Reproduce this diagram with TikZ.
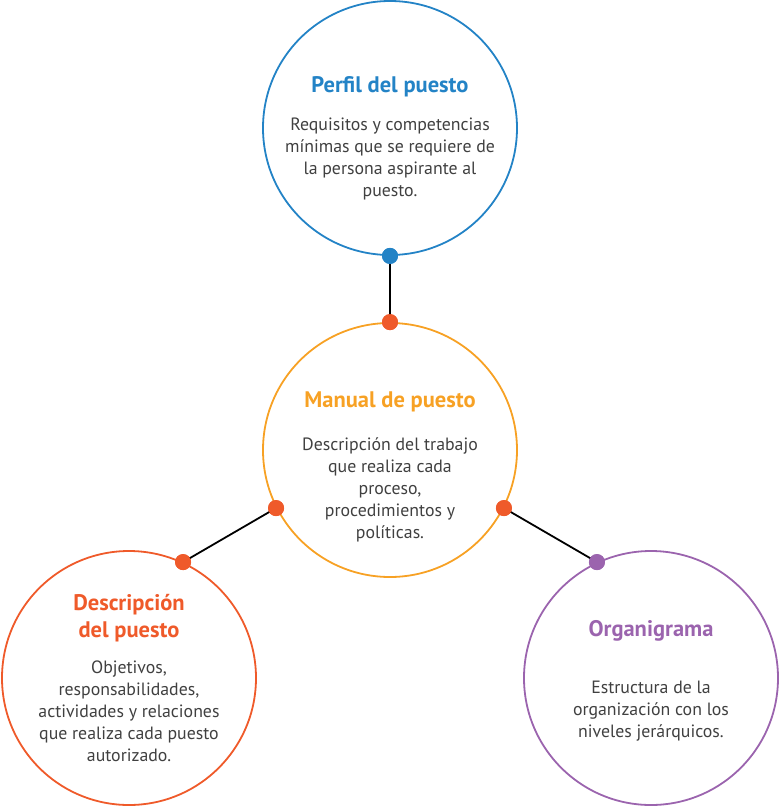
\documentclass[tikz,border=0pt]{standalone}
\usepackage{fontspec}
\setmainfont{PT Sans}
\definecolor{cblue}{HTML}{2383C6}
\definecolor{corange}{HTML}{F7A124}
\definecolor{cred}{HTML}{EF5A2A}
\definecolor{cpurple}{HTML}{9B64AE}
\definecolor{ctext}{HTML}{404040}
\tikzset{
  ring/.style={circle, draw=#1, line width=1.8pt, minimum size=254pt, inner sep=0pt},
  dot/.style={circle, fill=#1, minimum size=16pt, inner sep=0pt},
  link/.style={draw=black, line width=1.8pt},
  ttl/.style={text=#1, font=\fontsize{22.5}{27}\selectfont\bfseries, align=center},
  body/.style={text=ctext, font=\fontsize{17.8}{22}\selectfont, align=center},
}
\begin{document}
\begin{tikzpicture}[x=1pt,y=-1pt]
\useasboundingbox (0,0) rectangle (780,807);
\node[ring=cblue] (top) at (390,128) {};
\node[ring=corange] (mid) at (390,450) {};
\node[ring=cred] (bl) at (129,678) {};
\node[ring=cpurple] (br) at (651,678) {};
\node[dot=cblue] (d1) at (top.-90) {};
\node[dot=cred] (d2) at (mid.90) {};
\node[dot=cred] (d3) at (mid.207) {};
\node[dot=cred] (d4) at (mid.333) {};
\node[dot=cred] (d5) at (bl.65) {};
\node[dot=cpurple] (d6) at (br.115) {};
\draw[link] (d1.center) -- (d2.center);
\draw[link] (d3.center) -- (d5.center);
\draw[link] (d4.center) -- (d6.center);
\node[dot=cblue] at (d1) {};
\node[dot=cred] at (d2) {};
\node[dot=cred] at (d3) {};
\node[dot=cred] at (d4) {};
\node[dot=cred] at (d5) {};
\node[dot=cpurple] at (d6) {};
\node[ttl=cblue] (t1) at (390,87) {Perfil del puesto};
\node[body, anchor=north] (b1) at (390,114) {Requisitos y competencias\\mínimas que se requiere de\\la persona aspirante al\\puesto.};
\node[ttl=corange] (t2) at (390,402) {Manual de puesto};
\node[body, anchor=north] (b2) at (390,434) {Descripción del trabajo\\que realiza cada\\proceso,\\procedimientos y\\políticas.};
\node[ttl=cred] (t3) at (129,618) {Descripción\\del puesto};
\node[body, anchor=north] (b3) at (129,657) {Objetivos,\\responsabilidades,\\actividades y relaciones\\que realiza cada puesto\\autorizado.};
\node[ttl=cpurple] (t4) at (651,631) {Organigrama};
\node[body, anchor=north] (b4) at (651,677) {Estructura de la\\organización con los\\niveles jerárquicos.};
\end{tikzpicture}
\end{document}
